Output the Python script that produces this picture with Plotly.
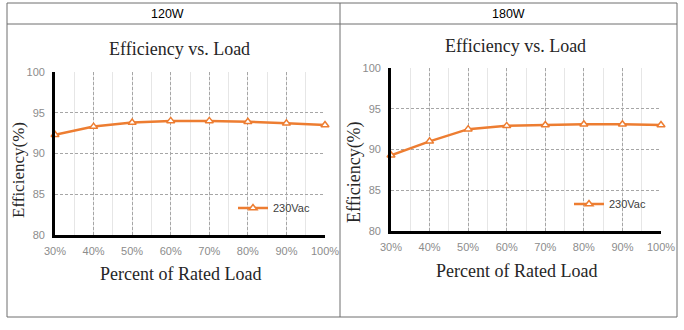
import plotly.graph_objects as go

W, H = 684, 330

# ---- data ----
loads = [30, 40, 50, 60, 70, 80, 90, 100]
eff_120w = [92.3, 93.3, 93.8, 94.0, 94.0, 93.9, 93.7, 93.5]
eff_180w = [89.3, 91.0, 92.5, 92.9, 93.0, 93.1, 93.1, 93.0]
panel_titles = ["120W", "180W"]
chart_title = "Efficiency vs. Load"
x_title = "Percent of Rated Load"
y_title = "Efficiency(%)"
series_name = "230Vac"
y_ticks = [80, 85, 90, 95, 100]
x_ticklabels = [f"{v}%" for v in loads]


def px(x):
    return x / W


def py(y):
    return 1 - y / H


ORANGE = "#ED7D31"
SERIF = "Liberation Serif, Times New Roman, serif"
SANS = "Liberation Sans, Arial, sans-serif"

fig = go.Figure()

series = [eff_120w, eff_180w]
axes_ids = [("x", "y", "legend"), ("x2", "y2", "legend2")]
for vals, (xa, ya, lg) in zip(series, axes_ids):
    fig.add_trace(go.Scatter(
        x=loads, y=vals, mode="lines+markers", name=series_name,
        xaxis=xa, yaxis=ya, legend=lg, cliponaxis=False,
        line=dict(color=ORANGE, width=2.5),
        marker=dict(symbol="triangle-up", size=7, color="white",
                    line=dict(color=ORANGE, width=1.5)),
    ))

# plot-area geometry (pixels)
areas = [
    dict(x0=55, x1=325, y0=72, y1=235),
    dict(x0=391, x1=661, y0=68, y1=231),
]

def xaxis_cfg(a, anchor):
    return dict(
        domain=[px(a["x0"]), px(a["x1"])], anchor=anchor, automargin=False,
        range=[30, 100], tickmode="array", tickvals=loads, ticktext=x_ticklabels,
        showline=True, linecolor="black", linewidth=2.8,
        showgrid=True, gridcolor="#A6A6A6", griddash="3px,2px", gridwidth=1,
        minor=dict(tickmode="linear", tick0=30, dtick=5, showgrid=True,
                   gridcolor="#E6E6E6", gridwidth=1, griddash="solid"),
        tickfont=dict(family=SANS, size=11, color="#8C8C8C"),
        ticks="", ticklabelstandoff=4, zeroline=False, fixedrange=True,
    )

def yaxis_cfg(a, anchor):
    return dict(
        domain=[py(a["y1"]), py(a["y0"])], anchor=anchor, automargin=False,
        range=[80, 100], tickmode="array", tickvals=y_ticks,
        showline=True, linecolor="black", linewidth=2.8,
        showgrid=True, gridcolor="#A6A6A6", griddash="3px,2px", gridwidth=1,
        tickfont=dict(family=SANS, size=11, color="#8C8C8C"),
        ticks="", ticklabelstandoff=5, zeroline=False, fixedrange=True,
    )

fig.update_layout(
    width=W, height=H, margin=dict(l=0, r=0, t=0, b=0, autoexpand=False),
    paper_bgcolor="white", plot_bgcolor="white",
    xaxis=xaxis_cfg(areas[0], "y"), yaxis=yaxis_cfg(areas[0], "x"),
    xaxis2=xaxis_cfg(areas[1], "y2"), yaxis2=yaxis_cfg(areas[1], "x2"),
    legend=dict(x=px(233), y=py(208), xanchor="left", yanchor="middle",
                bgcolor="rgba(0,0,0,0)", font=dict(family=SANS, size=11, color="#404040")),
    legend2=dict(x=px(569), y=py(204), xanchor="left", yanchor="middle",
                 bgcolor="rgba(0,0,0,0)", font=dict(family=SANS, size=11, color="#404040")),
    showlegend=True,
)

# table frame
BORDER = "#6E6E6E"
shapes = [
    dict(type="rect", x0=px(7), x1=px(677), y0=py(317), y1=py(3)),
    dict(type="line", x0=px(7), x1=px(677), y0=py(24), y1=py(24)),
    dict(type="line", x0=px(340), x1=px(340), y0=py(317), y1=py(3)),
]
for s in shapes:
    s.update(xref="paper", yref="paper", line=dict(color=BORDER, width=1))
    fig.add_shape(**s)

ann = []
for title, cx in zip(panel_titles, [167, 509]):
    ann.append(dict(text=title, x=px(cx), y=py(14), font=dict(family=SANS, size=12.5, color="black")))
for cx, cy in [(179, 49), (515, 46)]:
    ann.append(dict(text=chart_title, x=px(cx), y=py(cy), font=dict(family=SERIF, size=18, color="#262626")))
for cx, cy in [(180, 274), (516, 271)]:
    ann.append(dict(text=x_title, x=px(cx), y=py(cy), font=dict(family=SERIF, size=18, color="#262626")))
for cx, cy, sz in [(18, 170, 17), (354, 172, 18)]:
    ann.append(dict(text=y_title, x=px(cx), y=py(cy), textangle=-90, font=dict(family=SERIF, size=sz, color="#262626")))
for a in ann:
    a.update(xref="paper", yref="paper", showarrow=False, xanchor="center", yanchor="middle")
    fig.add_annotation(**a)

fig.write_html("out.html")
